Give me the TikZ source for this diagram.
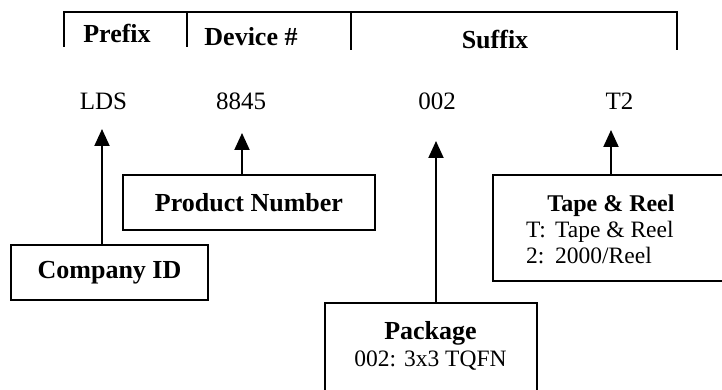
\documentclass[tikz,border=0pt]{standalone}
\usepackage{fontspec}
\setmainfont{Liberation Serif}
\usetikzlibrary{arrows.meta}
\begin{document}
\begin{tikzpicture}[x=1pt,y=-1pt,
  lw/.style={line width=2pt},
  txt/.style={inner sep=0pt,anchor=base},
  hdr/.style={txt,font=\fontsize{26}{30}\selectfont\bfseries},
  val/.style={txt,font=\fontsize{25}{30}\selectfont},
  boxbig/.style={draw,line width=2pt,inner sep=0pt,font=\fontsize{26}{30}\selectfont\bfseries},
  boxplain/.style={draw,line width=2pt,inner sep=0pt},
  ttl/.style={txt,font=\fontsize{24}{28}\selectfont\bfseries},
  det/.style={txt,font=\fontsize{23.5}{28}\selectfont},
  arr/.style={line width=2pt,-{Triangle[width=15pt,length=17pt]}}]
\useasboundingbox (0,0) rectangle (722,390);
\clip (0,0) rectangle (722,390);
\fill[white] (0,0) rectangle (722,390);
% header bracket
\draw[lw] (64,47) -- (64,12) -- (677,12) -- (677,50);
\draw[lw] (187,12) -- (187,47);
\draw[lw] (351,12) -- (351,50);
\node[hdr] (prefix) at (117,43) {Prefix};
\node[hdr] (device) at (251,46) {Device \#};
\node[hdr] (suffix) at (495,49) {Suffix};
% values
\node[val] (lds) at (103.5,110) {LDS};
\node[val] (num) at (241,110) {8845};
\node[val] (pk) at (437,110) {002};
\node[val] (tr) at (619.5,110) {T2};
% arrow tips
\coordinate (tip1) at (102,129);
\coordinate (tip2) at (242,133);
\coordinate (tip3) at (436,141);
\coordinate (tip4) at (611,130);
% boxes
\node[boxbig,minimum width=197pt,minimum height=55pt] (company) at (109.5,272.5) {Company ID};
\node[boxbig,minimum width=252pt,minimum height=55pt] (product) at (249,202.5) {Product Number};
\node[boxplain,minimum width=212pt,minimum height=117pt] (package) at (431,361.5) {};
\node[boxplain,minimum width=237pt,minimum height=106pt] (tape) at (611.5,228) {};
\node[hdr] (pkgtitle) at (430.5,339) {Package};
\node[det] (pkgdet) at (430.5,366) {002: 3x3 TQFN};
\node[ttl] (tapetitle) at (611,211) {Tape \& Reel};
\node[det,anchor=base west] (tapel1) at (526,237) {\makebox[29pt][l]{T:}Tape \& Reel};
\node[det,anchor=base west] (tapel2) at (526,263) {\makebox[29pt][l]{2:}2000/Reel};
% arrows
\draw[arr] (company.north -| tip1) -- (tip1);
\draw[arr] (product.north -| tip2) -- (tip2);
\draw[arr] (package.north -| tip3) -- (tip3);
\draw[arr] (tape.north -| tip4) -- (tip4);
\end{tikzpicture}
\end{document}
